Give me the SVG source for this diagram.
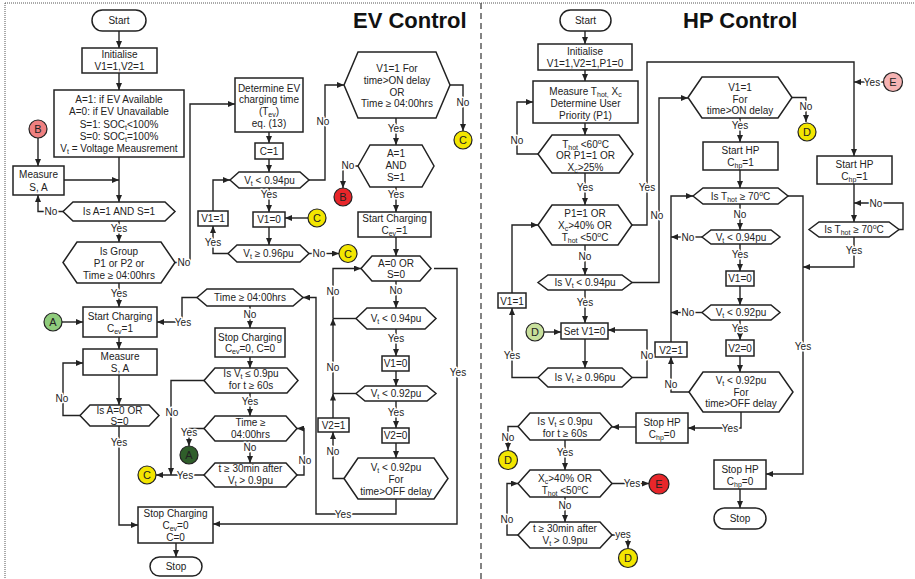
<svg xmlns="http://www.w3.org/2000/svg" width="915" height="579" viewBox="0 0 915 579">
<style>
.bx{fill:#fff;stroke:#222;stroke-width:1.5}
.ln{fill:none;stroke:#222;stroke-width:1.4;marker-end:url(#ah)}
.nl{fill:none;stroke:#222;stroke-width:1.4}
text{font-family:"Liberation Sans",Arial,Helvetica,sans-serif;font-size:10px;fill:#222;text-anchor:middle}
.lb{stroke:#fff;stroke-width:3px;paint-order:stroke;stroke-linejoin:round}
.s{font-size:7px}
.ttl{font-size:22px;font-weight:bold;text-anchor:start;fill:#111}
.cl{font-size:11px}
.cir{stroke:#222;stroke-width:1.2}
.pk{fill:#ef8080}.rd{fill:#e8262a}.yl{fill:#f3e600}.gn{fill:#8fcc7c}.lg{fill:#c8e09c}.dg{fill:#2f5e2a}.lp{fill:#f5b3b3}
</style>
<defs>
<marker id="ah" markerWidth="7" markerHeight="6" refX="7" refY="3" orient="auto" markerUnits="userSpaceOnUse"><path d="M0,0 L7,3 L0,6 z" fill="#222"/></marker>
</defs>
<g id="frame">
<line x1="5" y1="3" x2="915" y2="3" stroke="#555" stroke-width="1" stroke-dasharray="1,1"/>
<line x1="5" y1="3" x2="5" y2="579" stroke="#555" stroke-width="1" stroke-dasharray="1,1"/>
<line x1="481" y1="3" x2="481" y2="579" stroke="#333" stroke-width="1.2" stroke-dasharray="6,4"/>
<text class="ttl" x="353" y="28">EV Control</text>
<text class="ttl" x="683" y="28">HP Control</text>
</g>
<g id="connectors">
<!-- EV -->
<path class="ln" d="M119,31 V48"/>
<path class="ln" d="M119,73 V90"/>
<path class="ln" d="M119,157 V202"/>
<path class="ln" d="M38,138 V166"/>
<path class="ln" d="M64,180 H119"/>
<path class="ln" d="M63,211.5 H38 V195"/>
<path class="ln" d="M119,221 V242"/>
<path class="ln" d="M175,262.5 H190 V104 H235"/>
<path class="ln" d="M119,283 V307"/>
<path class="ln" d="M62,322 H83"/>
<path class="ln" d="M197,297.5 H182 V322 H157"/>
<path class="ln" d="M119,337 V349"/>
<path class="ln" d="M119,375 V405"/>
<path class="ln" d="M80,415.5 H63 V363 H83"/>
<path class="ln" d="M119,426 V525 H138"/>
<path class="ln" d="M176,543 V557"/>
<path class="ln" d="M434,268.5 H457 V524 H213"/>
<path class="ln" d="M269,132 V143"/>
<path class="ln" d="M269,159 V172"/>
<path class="ln" d="M309,180 H325 V85 H344"/>
<path class="ln" d="M269,188 V212"/>
<path class="ln" d="M308,218 H285"/>
<path class="ln" d="M269,227 V245"/>
<path class="ln" d="M309,253.5 H339"/>
<path class="ln" d="M228,253.5 H213 V226"/>
<path class="ln" d="M213,211 V180 H230"/>
<path class="ln" d="M450,85 H463 V131"/>
<path class="ln" d="M396,118 V145"/>
<path class="ln" d="M358,166 H343 V188"/>
<path class="ln" d="M396,187 V212"/>
<path class="ln" d="M396,237 V256"/>
<path class="ln" d="M396,281 V308"/>
<path class="ln" d="M396,329 V356"/>
<path class="ln" d="M396,371 V386"/>
<path class="ln" d="M396,401 V428"/>
<path class="ln" d="M396,443 V458"/>
<path class="ln" d="M344,478.5 H333 V432"/>
<path class="ln" d="M333,418 V393.5"/>
<path class="ln" d="M333,393.5 V318.5"/>
<path class="ln" d="M333,318.5 V268.5 H361"/>
<path class="nl" d="M356,393.5 H333"/>
<path class="nl" d="M356,318.5 H333"/>
<path class="ln" d="M396,499 V514 H316 V297.5 H303"/>
<path class="ln" d="M250,306 V328"/>
<path class="ln" d="M250,357 V368"/>
<path class="ln" d="M250,393 V416"/>
<path class="ln" d="M204,380.5 H171 V475"/>
<path class="ln" d="M204,428.5 H189 V446"/>
<path class="ln" d="M250,441 V463"/>
<path class="ln" d="M204,475 H156"/>
<path class="ln" d="M297,475 H304 V428.5 H297"/>
<!-- HP -->
<path class="ln" d="M585,31 V44"/>
<path class="ln" d="M585,70 V81"/>
<path class="ln" d="M585,123 V135"/>
<path class="ln" d="M538,154 H517 V102 H533"/>
<path class="ln" d="M585,173 V205"/>
<path class="ln" d="M632,225 H647 V62 H854 V156"/>
<path class="ln" d="M585,245 V275"/>
<path class="ln" d="M632,282.5 H659 V98 H688"/>
<path class="ln" d="M585,290 V323"/>
<path class="ln" d="M544,332 H561"/>
<path class="ln" d="M585,339 V368"/>
<path class="ln" d="M538,377.5 H512 V308"/>
<path class="ln" d="M512,293 V225 H538"/>
<path class="ln" d="M632,377.5 H647 V330 H608"/>
<path class="ln" d="M792,97.5 H806 V122"/>
<path class="ln" d="M740,118 V142"/>
<path class="ln" d="M740,170 V188"/>
<path class="ln" d="M740,204 V230"/>
<path class="ln" d="M740,244 V271"/>
<path class="ln" d="M740,286 V305"/>
<path class="ln" d="M740,320 V340"/>
<path class="ln" d="M740,356 V372"/>
<path class="ln" d="M702,237 H671"/>
<path class="ln" d="M702,312.5 H671"/>
<path class="ln" d="M689,392 H671 V357"/>
<path class="ln" d="M671,342 V196 H693"/>
<path class="ln" d="M741,412 V428 H688"/>
<path class="ln" d="M636,427 H612"/>
<path class="ln" d="M518,426.5 H508 V450"/>
<path class="ln" d="M565,440 V470"/>
<path class="ln" d="M612,483.5 H649"/>
<path class="ln" d="M565,497 V522"/>
<path class="ln" d="M518,535 H507 V483.5 H518"/>
<path class="ln" d="M612,535 H628 V548"/>
<path class="ln" d="M854,184 V222"/>
<path class="ln" d="M884,82 H854"/>
<path class="ln" d="M899,229.5 H903 V203 H854"/>
<path class="ln" d="M854,237 V267 H803"/>
<path class="ln" d="M788,196 H803 V474 H766"/>
<path class="ln" d="M740,489 V508"/>
</g>
<g id="ev_start"><rect class="bx" x="92" y="10" width="54" height="21" rx="10.5"/><text x="119" y="24">Start</text></g>
<g id="ev_init"><rect class="bx" x="82" y="48" width="75" height="25"/><text x="119.5" y="58">Initialise</text><text x="119.5" y="70">V1=1,V2=1</text></g>
<g id="ev_def"><rect class="bx" x="54" y="90" width="130" height="67"/>
<text x="119" y="103">A=1: if EV Available</text>
<text x="119" y="115">A=0: if EV Unavailable</text>
<text x="119" y="128">S=1:  SOC<tspan class="s" dy="2">t</tspan><tspan dy="-2">&lt;100%</tspan></text>
<text x="119" y="140">S=0:  SOC<tspan class="s" dy="2">t</tspan><tspan dy="-2">=100%</tspan></text>
<text x="119" y="152">V<tspan class="s" dy="2">t</tspan><tspan dy="-2"> = Voltage Meausrement</tspan></text></g>
<g id="ev_b1"><circle class="cir pk" cx="38" cy="129" r="9"/><text class="cl" x="38" y="133">B</text></g>
<g id="ev_measure1"><rect class="bx" x="13" y="166" width="51" height="29"/><text x="38.5" y="178">Measure</text><text x="38.5" y="191">S, A</text></g>
<g id="ev_dec1"><polygon class="bx" points="63,211.5 73,202 165,202 175,211.5 165,221 73,221"/><text x="119" y="215">Is A=1 AND S=1</text></g>
<g id="ev_group"><polygon class="bx" points="63,262.5 77,242 161,242 175,262.5 161,283 77,283"/><text x="119" y="255">Is Group</text><text x="119" y="267">P1 or P2 or</text><text x="119" y="279">Time ≥ 04:00hrs</text></g>
<g id="ev_a1"><circle class="cir gn" cx="53" cy="322" r="9"/><text class="cl" x="53" y="326">A</text></g>
<g id="ev_startchg"><rect class="bx" x="83" y="307" width="74" height="30"/><text x="120" y="319.5">Start Charging</text><text x="120" y="331.5">C<tspan class="s" dy="2">ev</tspan><tspan dy="-2">=1</tspan></text></g>
<g id="ev_measure2"><rect class="bx" x="83" y="349" width="74" height="26"/><text x="120" y="360">Measure</text><text x="120" y="372">S, A</text></g>
<g id="ev_a0"><polygon class="bx" points="80,415.5 90,405 149,405 159,415.5 149,426 90,426"/><text x="119.5" y="413.5">Is A=0 OR</text><text x="119.5" y="424.5">S=0</text></g>
<g id="ev_stopchg"><rect class="bx" x="138" y="507" width="75" height="36"/><text x="175.5" y="516.5">Stop Charging</text><text x="175.5" y="528.5">C<tspan class="s" dy="2">ev</tspan><tspan dy="-2">=0</tspan></text><text x="175.5" y="540.5">C=0</text></g>
<g id="ev_stop"><rect class="bx" x="150" y="557" width="52" height="19" rx="9.5"/><text x="176" y="570">Stop</text></g>
<g id="ev_determine"><rect class="bx" x="235" y="78" width="68" height="54"/><text x="269" y="91.5">Determine EV</text><text x="269" y="103">charging time</text><text x="269" y="115">(T<tspan class="s" dy="2">ev</tspan><tspan dy="-2">)</tspan></text><text x="269" y="127">eq. (13)</text></g>
<g id="ev_c1"><rect class="bx" x="255" y="143" width="28" height="16"/><text x="269" y="154.5">C=1</text></g>
<g id="ev_v094"><polygon class="bx" points="230,180 239,172 300,172 309,180 300,188 239,188"/><text x="269.5" y="183.5">V<tspan class="s" dy="2">t</tspan><tspan dy="-2"> &lt; 0.94pu</tspan></text></g>
<g id="ev_v1eq1"><rect class="bx" x="198" y="211" width="30" height="15"/><text x="213" y="222">V1=1</text></g>
<g id="ev_v1eq0"><rect class="bx" x="253" y="212" width="32" height="15"/><text x="269" y="223">V1=0</text></g>
<g id="ev_c1c"><circle class="cir yl" cx="317" cy="218" r="9"/><text class="cl" x="317" y="222">C</text></g>
<g id="ev_v096"><polygon class="bx" points="228,253.5 237,245 300,245 309,253.5 300,262 237,262"/><text x="268.5" y="257">V<tspan class="s" dy="2">t</tspan><tspan dy="-2"> ≥ 0.96pu</tspan></text></g>
<g id="ev_c2"><circle class="cir yl" cx="348" cy="253.5" r="9"/><text class="cl" x="348" y="257.5">C</text></g>
<g id="ev_time1"><polygon class="bx" points="197,297.5 207,289 293,289 303,297.5 293,306 207,306"/><text x="250" y="301">Time ≥ 04:00hrs</text></g>
<g id="ev_stopchg2"><rect class="bx" x="215" y="328" width="70" height="29"/><text x="250" y="340.5">Stop Charging</text><text x="250" y="352">C<tspan class="s" dy="2">ev</tspan><tspan dy="-2">=0, C=0</tspan></text></g>
<g id="ev_v09"><polygon class="bx" points="204,380.5 215,368 287,368 298,380.5 287,393 215,393"/><text x="251" y="377">Is  V<tspan class="s" dy="2">t</tspan><tspan dy="-2"> ≤  0.9pu</tspan></text><text x="251" y="389">for t ≥ 60s</text></g>
<g id="ev_time2"><polygon class="bx" points="204,428.5 215,416 286,416 297,428.5 286,441 215,441"/><text x="250.5" y="425.5">Time ≥</text><text x="250.5" y="437.5">04:00hrs</text></g>
<g id="ev_a2"><circle class="cir dg" cx="189" cy="455" r="9"/><text class="cl" x="189" y="459">A</text></g>
<g id="ev_t30"><polygon class="bx" points="204,475 215,463 286,463 297,475 286,487 215,487"/><text x="250.5" y="471.5">t ≥ 30min after</text><text x="250.5" y="483.5">V<tspan class="s" dy="2">t</tspan><tspan dy="-2"> &gt; 0.9pu</tspan></text></g>
<g id="ev_c3"><circle class="cir yl" cx="147" cy="475" r="9"/><text class="cl" x="147" y="479">C</text></g>
<g id="ev_on"><polygon class="bx" points="344,85 358,52 436,52 450,85 436,118 358,118"/><text x="397" y="71.5">V1=1 For</text><text x="397" y="83.5">time&gt;ON delay</text><text x="397" y="95.5">OR</text><text x="397" y="107">Time ≥ 04:00hrs</text></g>
<g id="ev_c4"><circle class="cir yl" cx="463" cy="140" r="9"/><text class="cl" x="463" y="144">C</text></g>
<g id="ev_as1"><polygon class="bx" points="358,166 370,145 422,145 434,166 422,187 370,187"/><text x="396" y="156.5">A=1</text><text x="396" y="168.5">AND</text><text x="396" y="180.5">S=1</text></g>
<g id="ev_b2"><circle class="cir rd" cx="343" cy="197" r="9"/><text class="cl" x="343" y="201">B</text></g>
<g id="ev_startchg2"><rect class="bx" x="358" y="212" width="73" height="25"/><text x="394.5" y="222">Start Charging</text><text x="394.5" y="233.5">C<tspan class="s" dy="2">ev</tspan><tspan dy="-2">=1</tspan></text></g>
<g id="ev_a0s0"><polygon class="bx" points="361,268.5 372,256 420,256 431,268.5 420,281 372,281"/><text x="396" y="266.5">A=0 OR</text><text x="396" y="278">S=0</text></g>
<g id="ev_v094b"><polygon class="bx" points="356,318.5 367,308 425,308 436,318.5 425,329 367,329"/><text x="396" y="322">V<tspan class="s" dy="2">t</tspan><tspan dy="-2"> &lt; 0.94pu</tspan></text></g>
<g id="ev_v1eq0b"><rect class="bx" x="382" y="356" width="27" height="15"/><text x="395.5" y="367">V1=0</text></g>
<g id="ev_v092"><polygon class="bx" points="356,393.5 365,386 427,386 436,393.5 427,401 365,401"/><text x="396" y="397">V<tspan class="s" dy="2">t</tspan><tspan dy="-2"> &lt; 0.92pu</tspan></text></g>
<g id="ev_v2eq0"><rect class="bx" x="382" y="428" width="27" height="15"/><text x="395.5" y="439">V2=0</text></g>
<g id="ev_v2eq1"><rect class="bx" x="318" y="418" width="31" height="14"/><text x="333.5" y="428.5">V2=1</text></g>
<g id="ev_off"><polygon class="bx" points="344,478.5 358,458 434,458 448,478.5 434,499 358,499"/><text x="396" y="470.5">V<tspan class="s" dy="2">t</tspan><tspan dy="-2"> &lt; 0.92pu</tspan></text><text x="396" y="482.5">For</text><text x="396" y="495">time&gt;OFF delay</text></g>
<!-- HP nodes -->
<g id="hp_start"><rect class="bx" x="560" y="10" width="51" height="21" rx="10.5"/><text x="585.5" y="24">Start</text></g>
<g id="hp_init"><rect class="bx" x="538" y="44" width="94" height="26"/><text x="585" y="54.5">Initialise</text><text x="585" y="66.5">V1=1,V2=1,P1=0</text></g>
<g id="hp_measure"><rect class="bx" x="533" y="81" width="105" height="42"/><text x="585.5" y="94.5">Measure T<tspan class="s" dy="2">hot,</tspan><tspan dy="-2"> X</tspan><tspan class="s" dy="2">c</tspan></text><text x="585.5" y="106.5">Determine User</text><text x="585.5" y="118.5">Priority (P1)</text></g>
<g id="hp_dec1"><polygon class="bx" points="538,154 552,135 619,135 633,154 619,173 552,173"/><text x="585.5" y="147.5">T<tspan class="s" dy="2">hot</tspan><tspan dy="-2"> &lt;60</tspan><tspan class="s" dy="-4">o</tspan><tspan dy="4">C</tspan></text><text x="585.5" y="158.5">OR P1=1 OR</text><text x="585.5" y="170.5">X<tspan class="s" dy="2">c</tspan><tspan dy="-2">&gt;25%</tspan></text></g>
<g id="hp_p1"><polygon class="bx" points="538,225 552,205 618,205 632,225 618,245 552,245"/><text x="585" y="216.5">P1=1 OR</text><text x="585" y="228.5">X<tspan class="s" dy="2">c</tspan><tspan dy="-2">&gt;40% OR</tspan></text><text x="585" y="240.5">T<tspan class="s" dy="2">hot</tspan><tspan dy="-2"> &lt;50</tspan><tspan class="s" dy="-4">o</tspan><tspan dy="4">C</tspan></text></g>
<g id="hp_v094"><polygon class="bx" points="538,282.5 548,275 622,275 632,282.5 622,290 548,290"/><text x="585" y="286">Is V<tspan class="s" dy="2">t</tspan><tspan dy="-2"> &lt; 0.94pu</tspan></text></g>
<g id="hp_v1eq1"><rect class="bx" x="498" y="293" width="28" height="15"/><text x="512" y="304.5">V1=1</text></g>
<g id="hp_d1"><circle class="cir lg" cx="535" cy="332" r="9"/><text class="cl" x="535" y="336">D</text></g>
<g id="hp_setv1"><rect class="bx" x="561" y="323" width="47" height="16"/><text x="584.5" y="334.5">Set V1=0</text></g>
<g id="hp_v096"><polygon class="bx" points="538,377.5 548,368 622,368 632,377.5 622,387 548,387"/><text x="585" y="381">Is V<tspan class="s" dy="2">t</tspan><tspan dy="-2"> ≥  0.96pu</tspan></text></g>
<g id="hp_von"><polygon class="bx" points="688,97.5 702,77 778,77 792,97.5 778,118 702,118"/><text x="740" y="90.5">V1=1</text><text x="740" y="102.5">For</text><text x="740" y="113.5">time&gt;ON delay</text></g>
<g id="hp_d2"><circle class="cir yl" cx="807" cy="132" r="9"/><text class="cl" x="807" y="136">D</text></g>
<g id="hp_starthp"><rect class="bx" x="703" y="142" width="75" height="28"/><text x="740.5" y="153.5">Start HP</text><text x="740.5" y="165.5">C<tspan class="s" dy="2">hp</tspan><tspan dy="-2">=1</tspan></text></g>
<g id="hp_thot"><polygon class="bx" points="693,196 703,188 778,188 788,196 778,204 703,204"/><text x="740.5" y="200">Is T<tspan class="s" dy="2">hot</tspan><tspan dy="-2"> ≥ 70</tspan><tspan class="s" dy="-4">o</tspan><tspan dy="4">C</tspan></text></g>
<g id="hp_v094b"><polygon class="bx" points="702,237 711,230 771,230 780,237 771,244 711,244"/><text x="741" y="241">V<tspan class="s" dy="2">t</tspan><tspan dy="-2"> &lt; 0.94pu</tspan></text></g>
<g id="hp_v1eq0"><rect class="bx" x="726" y="271" width="28" height="15"/><text x="740" y="282">V1=0</text></g>
<g id="hp_v092"><polygon class="bx" points="702,312.5 711,305 771,305 780,312.5 771,320 711,320"/><text x="741" y="316">V<tspan class="s" dy="2">t</tspan><tspan dy="-2"> &lt; 0.92pu</tspan></text></g>
<g id="hp_v2eq0"><rect class="bx" x="726" y="340" width="28" height="16"/><text x="740" y="351.5">V2=0</text></g>
<g id="hp_v2eq1"><rect class="bx" x="655" y="342" width="32" height="15"/><text x="671" y="353.5">V2=1</text></g>
<g id="hp_off"><polygon class="bx" points="689,392 703,372 779,372 793,392 779,412 703,412"/><text x="741" y="383.5">V<tspan class="s" dy="2">t</tspan><tspan dy="-2"> &lt; 0.92pu</tspan></text><text x="741" y="395.5">For</text><text x="741" y="406.5">time&gt;OFF delay</text></g>
<g id="hp_stophp1"><rect class="bx" x="636" y="413" width="52" height="30"/><text x="662" y="425.5">Stop HP</text><text x="662" y="437.5">C<tspan class="s" dy="2">hp</tspan><tspan dy="-2">=0</tspan></text></g>
<g id="hp_v09"><polygon class="bx" points="518,426.5 530,413 600,413 612,426.5 600,440 530,440"/><text x="565" y="424.5">Is  V<tspan class="s" dy="2">t</tspan><tspan dy="-2"> ≤  0.9pu</tspan></text><text x="565" y="437">for t ≥ 60s</text></g>
<g id="hp_d3"><circle class="cir yl" cx="508" cy="460" r="9.5"/><text class="cl" x="508" y="464">D</text></g>
<g id="hp_xc"><polygon class="bx" points="518,483.5 530,470 600,470 612,483.5 600,497 530,497"/><text x="565" y="481.5">X<tspan class="s" dy="2">c</tspan><tspan dy="-2">&gt;40% OR</tspan></text><text x="565" y="493.5">T<tspan class="s" dy="2">hot</tspan><tspan dy="-2"> &lt;50</tspan><tspan class="s" dy="-4">o</tspan><tspan dy="4">C</tspan></text></g>
<g id="hp_e1"><circle class="cir rd" cx="659" cy="484" r="10"/><text class="cl" x="659" y="488">E</text></g>
<g id="hp_t30"><polygon class="bx" points="518,535 530,522 600,522 612,535 600,548 530,548"/><text x="565" y="531.5">t ≥ 30min after</text><text x="565" y="544">V<tspan class="s" dy="2">t</tspan><tspan dy="-2"> &gt; 0.9pu</tspan></text></g>
<g id="hp_d4"><circle class="cir yl" cx="628" cy="558" r="9.5"/><text class="cl" x="628" y="562">D</text></g>
<g id="hp_e2"><circle class="cir lp" cx="893" cy="82" r="9.5"/><text class="cl" x="893" y="86">E</text></g>
<g id="hp_starthp2"><rect class="bx" x="817" y="156" width="75" height="28"/><text x="854.5" y="167.5">Start HP</text><text x="854.5" y="179.5">C<tspan class="s" dy="2">hp</tspan><tspan dy="-2">=1</tspan></text></g>
<g id="hp_thot2"><polygon class="bx" points="809,229.5 819,222 889,222 899,229.5 889,237 819,237"/><text x="854" y="233">Is T<tspan class="s" dy="2">hot</tspan><tspan dy="-2"> ≥ 70</tspan><tspan class="s" dy="-4">o</tspan><tspan dy="4">C</tspan></text></g>
<g id="hp_stophp2"><rect class="bx" x="714" y="460" width="52" height="29"/><text x="740" y="472.5">Stop HP</text><text x="740" y="484.5">C<tspan class="s" dy="2">hp</tspan><tspan dy="-2">=0</tspan></text></g>
<g id="hp_stop"><rect class="bx" x="714" y="508" width="52" height="21" rx="10.5"/><text x="740" y="522">Stop</text></g>
<g id="labels">
<text class="lb" x="51" y="215">No</text>
<text class="lb" x="119" y="232">Yes</text>
<text class="lb" x="184" y="266">No</text>
<text class="lb" x="119" y="297">Yes</text>
<text class="lb" x="183" y="326">Yes</text>
<text class="lb" x="62" y="402">No</text>
<text class="lb" x="119" y="446">Yes</text>
<text class="lb" x="458" y="376">Yes</text>
<text class="lb" x="323" y="125">No</text>
<text class="lb" x="269" y="198">Yes</text>
<text class="lb" x="319" y="257">No</text>
<text class="lb" x="213" y="245.5">Yes</text>
<text class="lb" x="463" y="106">No</text>
<text class="lb" x="396" y="132">Yes</text>
<text class="lb" x="348" y="169">No</text>
<text class="lb" x="396" y="198">Yes</text>
<text class="lb" x="396" y="294">No</text>
<text class="lb" x="396" y="342">Yes</text>
<text class="lb" x="396" y="415.5">Yes</text>
<text class="lb" x="333" y="455">No</text>
<text class="lb" x="333" y="371">No</text>
<text class="lb" x="333" y="295">No</text>
<text class="lb" x="343" y="517.5">Yes</text>
<text class="lb" x="250" y="318">No</text>
<text class="lb" x="250" y="404.5">Yes</text>
<text class="lb" x="172" y="416">No</text>
<text class="lb" x="189" y="436">Yes</text>
<text class="lb" x="250" y="451">No</text>
<text class="lb" x="185" y="478.5">Yes</text>
<text class="lb" x="305" y="464">No</text>
<text class="lb" x="517" y="144">No</text>
<text class="lb" x="585" y="191">Yes</text>
<text class="lb" x="647" y="191">Yes</text>
<text class="lb" x="585" y="260">No</text>
<text class="lb" x="657" y="219">No</text>
<text class="lb" x="585" y="306">Yes</text>
<text class="lb" x="512" y="359">Yes</text>
<text class="lb" x="647" y="359">No</text>
<text class="lb" x="806" y="110">No</text>
<text class="lb" x="740" y="129">Yes</text>
<text class="lb" x="740" y="217.5">No</text>
<text class="lb" x="740" y="257.5">Yes</text>
<text class="lb" x="740" y="331.5">Yes</text>
<text class="lb" x="688" y="240.5">No</text>
<text class="lb" x="688" y="316">No</text>
<text class="lb" x="671" y="388">No</text>
<text class="lb" x="730" y="431.5">Yes</text>
<text class="lb" x="508" y="441">No</text>
<text class="lb" x="565" y="456">Yes</text>
<text class="lb" x="632" y="487">Yes</text>
<text class="lb" x="565" y="508.5">No</text>
<text class="lb" x="507" y="523">No</text>
<text class="lb" x="623" y="538">yes</text>
<text class="lb" x="872" y="85.5">Yes</text>
<text class="lb" x="876" y="206.5">No</text>
<text class="lb" x="854" y="253.5">Yes</text>
<text class="lb" x="803" y="350">Yes</text>
</g>
</svg>
